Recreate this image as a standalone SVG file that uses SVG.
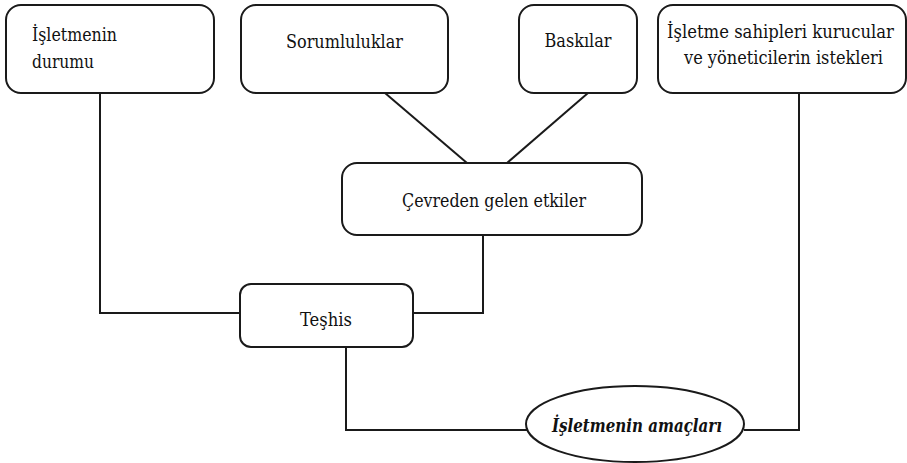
<svg xmlns="http://www.w3.org/2000/svg" width="907" height="463" viewBox="0 0 907 463">
<style>
.box{fill:#fff;stroke:#1a1a1a;stroke-width:2}
.ln{fill:none;stroke:#1a1a1a;stroke-width:2}
.c{text-anchor:middle}
</style>
<rect width="907" height="463" fill="#fff"/>
<g id="connectors">
<polyline class="ln" points="100,93 100,313 240,313"/>
<polyline class="ln" points="413,313 483,313 483,235"/>
<line class="ln" x1="385" y1="93" x2="467" y2="163"/>
<line class="ln" x1="588" y1="93" x2="507" y2="163"/>
<polyline class="ln" points="346,347 346,430 527,430"/>
<polyline class="ln" points="744,430 799,430 799,93"/>
</g>
<g font-family="'DejaVu Serif Condensed', 'DejaVu Serif', serif" font-stretch="condensed" font-size="19" fill="#111">
<g id="n-durum">
<rect class="box" x="6" y="5" width="208" height="88" rx="15"/>
<text x="32" y="41" textLength="85" lengthAdjust="spacingAndGlyphs">İşletmenin</text>
<text x="32" y="68" textLength="62" lengthAdjust="spacingAndGlyphs">durumu</text>
</g>
<g id="n-sorumluluklar">
<rect class="box" x="241" y="5" width="207" height="88" rx="15"/>
<text class="c" x="344.5" y="48" textLength="117" lengthAdjust="spacingAndGlyphs">Sorumluluklar</text>
</g>
<g id="n-baskilar">
<rect class="box" x="519" y="5" width="118" height="88" rx="15"/>
<text class="c" x="578" y="47" textLength="67" lengthAdjust="spacingAndGlyphs">Baskılar</text>
</g>
<g id="n-istekler">
<rect class="box" x="658" y="5" width="248" height="88" rx="15"/>
<text class="c" x="780.5" y="38" textLength="227" lengthAdjust="spacingAndGlyphs">İşletme sahipleri kurucular</text>
<text class="c" x="783.5" y="64" textLength="199" lengthAdjust="spacingAndGlyphs">ve yöneticilerin istekleri</text>
</g>
<g id="n-cevre">
<rect class="box" x="342" y="163" width="300" height="72" rx="15"/>
<text class="c" x="494" y="207" textLength="184" lengthAdjust="spacingAndGlyphs">Çevreden gelen etkiler</text>
</g>
<g id="n-teshis">
<rect class="box" x="240" y="284" width="173" height="63" rx="11"/>
<text class="c" x="326" y="326" textLength="52" lengthAdjust="spacingAndGlyphs">Teşhis</text>
</g>
<g id="n-amaclar">
<ellipse class="box" cx="635" cy="424" rx="109" ry="38"/>
<text class="c" x="637" y="432" font-weight="bold" font-style="italic" textLength="170" lengthAdjust="spacingAndGlyphs">İşletmenin amaçları</text>
</g>
</g>
</svg>
